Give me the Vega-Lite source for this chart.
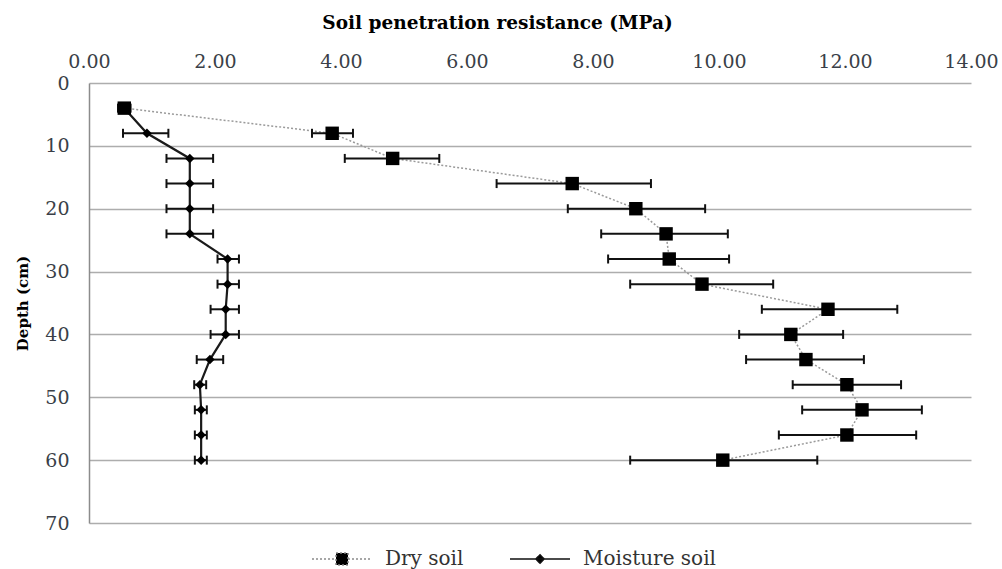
{
  "$schema": "https://vega.github.io/schema/vega-lite/v6.json",
  "width": 882,
  "height": 440,
  "autosize": {"type": "none"},
  "padding": {"left": 89, "top": 83, "right": 31, "bottom": 46},
  "background": "white",
  "config": {
    "view": {"stroke": null},
    "font": "DejaVu Serif",
    "scale": {"continuousPadding": 0},
    "axisX": {
      "grid": false,
      "domain": false,
      "ticks": false,
      "labelFlush": false,
      "labelFont": "DejaVu Serif",
      "labelFontSize": 19,
      "labelColor": "#3a3f48",
      "labelPadding": 12,
      "titleFont": "DejaVu Serif",
      "titleFontSize": 18.5,
      "titleFontWeight": "bold",
      "titleColor": "#000000",
      "titlePadding": 20
    },
    "legend": {
      "orient": "none",
      "legendX": 243,
      "legendY": 466,
      "direction": "horizontal",
      "padding": 0,
      "symbolSize": 144,
      "labelOffset": 33,
      "columnPadding": 43,
      "labelFont": "DejaVu Serif",
      "labelFontSize": 20,
      "labelColor": "#333333",
      "symbolStrokeWidth": 1.5,
      "symbolOpacity": 1
    }
  },
  "data": {
    "values": [
      {"series": "Dry soil", "depth": 4, "x": 0.56, "lo": 0.46, "hi": 0.66},
      {"series": "Dry soil", "depth": 8, "x": 3.86, "lo": 3.54, "hi": 4.19},
      {"series": "Dry soil", "depth": 12, "x": 4.82, "lo": 4.06, "hi": 5.56},
      {"series": "Dry soil", "depth": 16, "x": 7.67, "lo": 6.47, "hi": 8.92},
      {"series": "Dry soil", "depth": 20, "x": 8.68, "lo": 7.60, "hi": 9.78},
      {"series": "Dry soil", "depth": 24, "x": 9.16, "lo": 8.13, "hi": 10.14},
      {"series": "Dry soil", "depth": 28, "x": 9.21, "lo": 8.24, "hi": 10.16},
      {"series": "Dry soil", "depth": 32, "x": 9.73, "lo": 8.59, "hi": 10.86},
      {"series": "Dry soil", "depth": 36, "x": 11.73, "lo": 10.68, "hi": 12.83},
      {"series": "Dry soil", "depth": 40, "x": 11.14, "lo": 10.32, "hi": 11.97},
      {"series": "Dry soil", "depth": 44, "x": 11.38, "lo": 10.43, "hi": 12.30},
      {"series": "Dry soil", "depth": 48, "x": 12.03, "lo": 11.17, "hi": 12.89},
      {"series": "Dry soil", "depth": 52, "x": 12.27, "lo": 11.32, "hi": 13.22},
      {"series": "Dry soil", "depth": 56, "x": 12.03, "lo": 10.95, "hi": 13.13},
      {"series": "Dry soil", "depth": 60, "x": 10.06, "lo": 8.59, "hi": 11.56},
      {"series": "Moisture soil", "depth": 4, "x": 0.56, "lo": 0.50, "hi": 0.62},
      {"series": "Moisture soil", "depth": 8, "x": 0.92, "lo": 0.54, "hi": 1.26},
      {"series": "Moisture soil", "depth": 12, "x": 1.60, "lo": 1.23, "hi": 1.97},
      {"series": "Moisture soil", "depth": 16, "x": 1.60, "lo": 1.23, "hi": 1.97},
      {"series": "Moisture soil", "depth": 20, "x": 1.60, "lo": 1.23, "hi": 1.97},
      {"series": "Moisture soil", "depth": 24, "x": 1.60, "lo": 1.23, "hi": 1.97},
      {"series": "Moisture soil", "depth": 28, "x": 2.20, "lo": 2.04, "hi": 2.38},
      {"series": "Moisture soil", "depth": 32, "x": 2.20, "lo": 2.04, "hi": 2.38},
      {"series": "Moisture soil", "depth": 36, "x": 2.17, "lo": 1.93, "hi": 2.38},
      {"series": "Moisture soil", "depth": 40, "x": 2.17, "lo": 1.93, "hi": 2.38},
      {"series": "Moisture soil", "depth": 44, "x": 1.92, "lo": 1.71, "hi": 2.13},
      {"series": "Moisture soil", "depth": 48, "x": 1.76, "lo": 1.67, "hi": 1.86},
      {"series": "Moisture soil", "depth": 52, "x": 1.78, "lo": 1.68, "hi": 1.87},
      {"series": "Moisture soil", "depth": 56, "x": 1.78, "lo": 1.68, "hi": 1.87},
      {"series": "Moisture soil", "depth": 60, "x": 1.78, "lo": 1.68, "hi": 1.87}
    ]
  },
  "encoding": {
    "y": {
      "field": "depth",
      "type": "quantitative",
      "scale": {"domain": [0, 70], "reverse": true, "nice": false, "zero": false, "padding": 0},
      "axis": {
        "values": [0, 10, 20, 30, 40, 50, 60, 70],
        "title": "Depth (cm)",
        "ticks": false,
        "domainColor": "#8c8c8c",
        "domainWidth": 1.5,
        "grid": true,
        "gridColor": "#adadad",
        "gridWidth": 1.5,
        "labelFont": "DejaVu Serif",
        "labelFontSize": 19,
        "labelColor": "#3a3f48",
        "labelPadding": 20,
        "titleFont": "DejaVu Serif",
        "titleFontSize": 15,
        "titleFontWeight": "bold",
        "titleColor": "#000000",
        "titlePadding": 14
      }
    }
  },
  "layer": [
    {
      "transform": [{"filter": "datum.series === 'Dry soil'"}],
      "mark": {"type": "line", "stroke": "#9a9a9a", "strokeWidth": 1.5, "strokeDash": [2, 2]},
      "encoding": {
        "x": {
          "field": "x",
          "type": "quantitative",
          "title": "Soil penetration resistance (MPa)",
          "scale": {"domain": [0, 14], "nice": false, "zero": true, "padding": 0},
          "axis": {"orient": "top", "values": [0, 2, 4, 6, 8, 10, 12, 14], "format": ".2f", "titleX": 408}
        },
        "order": {"field": "depth", "type": "quantitative"}
      }
    },
    {
      "transform": [{"filter": "datum.series === 'Moisture soil'"}],
      "mark": {"type": "line", "stroke": "#1a1a1a", "strokeWidth": 2.2},
      "encoding": {
        "x": {
          "field": "x",
          "type": "quantitative",
          "title": "Soil penetration resistance (MPa)",
          "scale": {"domain": [0, 14], "nice": false, "zero": true, "padding": 0},
          "axis": {"orient": "top", "values": [0, 2, 4, 6, 8, 10, 12, 14], "format": ".2f", "titleX": 408}
        },
        "order": {"field": "depth", "type": "quantitative"}
      }
    },
    {
      "mark": {"type": "rule", "stroke": "#111111", "strokeWidth": 2},
      "encoding": {
        "x": {
          "field": "lo",
          "type": "quantitative",
          "title": "Soil penetration resistance (MPa)",
          "scale": {"domain": [0, 14], "nice": false, "zero": true, "padding": 0},
          "axis": {"orient": "top", "values": [0, 2, 4, 6, 8, 10, 12, 14], "format": ".2f", "titleX": 408}
        },
        "x2": {"field": "hi"}
      }
    },
    {
      "mark": {"type": "tick", "orient": "vertical", "color": "#111111", "size": 9, "thickness": 2, "opacity": 1},
      "encoding": {
        "x": {
          "field": "lo",
          "type": "quantitative",
          "title": "Soil penetration resistance (MPa)",
          "scale": {"domain": [0, 14], "nice": false, "zero": true, "padding": 0},
          "axis": {"orient": "top", "values": [0, 2, 4, 6, 8, 10, 12, 14], "format": ".2f", "titleX": 408}
        }
      }
    },
    {
      "mark": {"type": "tick", "orient": "vertical", "color": "#111111", "size": 9, "thickness": 2, "opacity": 1},
      "encoding": {
        "x": {
          "field": "hi",
          "type": "quantitative",
          "title": "Soil penetration resistance (MPa)",
          "scale": {"domain": [0, 14], "nice": false, "zero": true, "padding": 0},
          "axis": {"orient": "top", "values": [0, 2, 4, 6, 8, 10, 12, 14], "format": ".2f", "titleX": 408}
        }
      }
    },
    {
      "transform": [{"filter": "datum.series === 'Moisture soil'"}],
      "mark": {"type": "point", "shape": "diamond", "filled": true, "opacity": 1, "color": "#000000", "size": 90},
      "encoding": {
        "x": {
          "field": "x",
          "type": "quantitative",
          "title": "Soil penetration resistance (MPa)",
          "scale": {"domain": [0, 14], "nice": false, "zero": true, "padding": 0},
          "axis": {"orient": "top", "values": [0, 2, 4, 6, 8, 10, 12, 14], "format": ".2f", "titleX": 408}
        }
      }
    },
    {
      "transform": [{"filter": "datum.series === 'Dry soil'"}],
      "mark": {"type": "point", "shape": "square", "filled": true, "opacity": 1, "color": "#000000", "size": 180},
      "encoding": {
        "x": {
          "field": "x",
          "type": "quantitative",
          "title": "Soil penetration resistance (MPa)",
          "scale": {"domain": [0, 14], "nice": false, "zero": true, "padding": 0},
          "axis": {"orient": "top", "values": [0, 2, 4, 6, 8, 10, 12, 14], "format": ".2f", "titleX": 408}
        }
      }
    },
    {
      "transform": [{"filter": "false"}],
      "mark": {"type": "point", "filled": true, "opacity": 1, "fill": "#000000", "strokeWidth": 1.5},
      "encoding": {
        "x": {
          "field": "x",
          "type": "quantitative",
          "title": "Soil penetration resistance (MPa)",
          "scale": {"domain": [0, 14], "nice": false, "zero": true, "padding": 0},
          "axis": {"orient": "top", "values": [0, 2, 4, 6, 8, 10, 12, 14], "format": ".2f", "titleX": 408}
        },
        "shape": {
          "field": "series",
          "type": "nominal",
          "scale": {
            "domain": ["Dry soil", "Moisture soil"],
            "range": ["M-5,0H-1M1,0H5M-1,-1H1V1H-1Z", "M-5,0H5M-0.7,0L0,-0.7L0.7,0L0,0.7Z"]
          },
          "legend": {"title": null}
        },
        "stroke": {
          "field": "series",
          "type": "nominal",
          "scale": {"domain": ["Dry soil", "Moisture soil"], "range": ["#8a8a8a", "#111111"]},
          "legend": {"title": null}
        },
        "strokeDash": {
          "field": "series",
          "type": "nominal",
          "scale": {"domain": ["Dry soil", "Moisture soil"], "range": [[2, 2], [1, 0]]},
          "legend": {"title": null}
        }
      }
    }
  ]
}
